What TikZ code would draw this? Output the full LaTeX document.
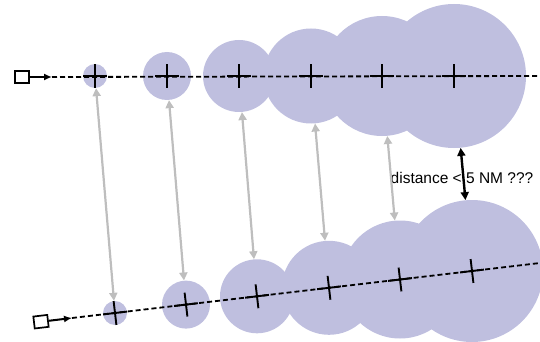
\documentclass[tikz,border=0pt]{standalone}
\usepackage{fontspec}
\setmainfont{Liberation Sans}
\usetikzlibrary{arrows.meta}
\definecolor{lav}{RGB}{191,191,223}
\definecolor{lgray}{RGB}{190,190,190}
\tikzset{
  zone/.style={circle, fill=lav, inner sep=0pt, minimum size=#1},
  track/.style={line width=1.8pt, dash pattern=on 5pt off 3pt},
  crossmark/.style={line width=1.9pt},
  startbox/.style={draw, line width=1.7pt, fill=white, minimum width=14pt, minimum height=12pt, inner sep=0pt},
  headarrow/.style={line width=2pt, -{Latex[length=8pt,width=7pt]}},
  link/.style={lgray, line width=2.2pt, {Triangle[length=8pt,width=8pt]}-{Triangle[length=8pt,width=8pt]}},
  gap/.style={black, line width=2.4pt, {Triangle[length=8pt,width=8pt]}-{Triangle[length=8pt,width=8pt]}},
  label/.style={font=\fontsize{15.5}{18}\selectfont, inner sep=0pt}
}
\begin{document}
\begin{tikzpicture}[x=1pt,y=-1pt]
\useasboundingbox (0,0) rectangle (540,342);
% top circles
\node[zone=24pt] (t1) at (95,76) {};
\node[zone=48pt] (t2) at (167,76) {};
\node[zone=72pt] (t3) at (239,76) {};
\node[zone=95pt] (t4) at (311,76) {};
\node[zone=120pt] (t5) at (382,76) {};
\node[zone=144pt] (t6) at (454,76) {};
% bottom circles
\node[zone=24pt] (b1) at (115,313) {};
\node[zone=48pt] (b2) at (186,304.6) {};
\node[zone=74pt] (b3) at (257,296.3) {};
\node[zone=94pt] (b4) at (329,287.8) {};
\node[zone=118pt] (b5) at (400,279.5) {};
\node[zone=142pt] (b6) at (472,271) {};
% tracks
\node[startbox] (s1) at (22,77) {};
\coordinate (s1e) at (52,77);
\coordinate (t1end) at (540,76);
\draw[headarrow] (s1.east) -- (s1e);
\draw[track] (s1e) -- (t1end);
\node[startbox, rotate=6.7] (s2) at (41,321.7) {};
\coordinate (s2e) at (72,318);
\coordinate (t2end) at (540,263);
\draw[headarrow] (s2.east) -- (s2e);
\draw[track] (s2e) -- (t2end);
% crosses
\foreach \n in {t1,t2,t3,t4,t5,t6}{
  \draw[crossmark] ([xshift=-12pt]\n.center) -- ([xshift=12pt]\n.center);
  \draw[crossmark] ([yshift=-12pt]\n.center) -- ([yshift=12pt]\n.center);
}
\foreach \n in {b1,b2,b3,b4,b5,b6}{
  \begin{scope}[shift={(\n.center)}, rotate=6.7]
  \draw[crossmark] (-12,0) -- (12,0);
  \draw[crossmark] (0,-12) -- (0,12);
  \end{scope}
}
% label
\node[label] (d) at (462,178) {distance < 5 NM ???};
% links
\draw[link] (t1) -- (b1);
\draw[link] (t2) -- (b2);
\draw[link] (t3) -- (b3);
\draw[link] (t4) -- (b4);
\draw[link] (t5) -- (b5);
\draw[gap] (t6) -- (b6);
\end{tikzpicture}
\end{document}
